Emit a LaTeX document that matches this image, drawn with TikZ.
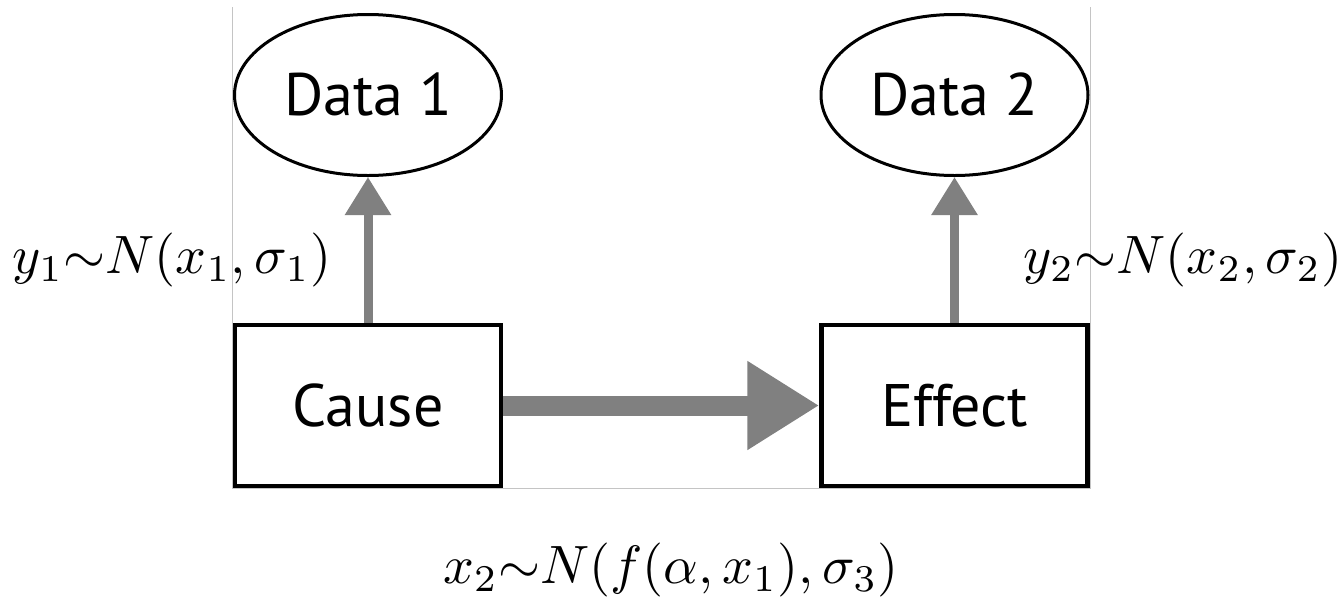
\documentclass[tikz,border=0pt]{standalone}
\usepackage[no-math]{fontspec}
\setmainfont{PT Sans}
\usetikzlibrary{shapes.geometric,arrows.meta}
\definecolor{arrowgray}{HTML}{808080}
\definecolor{framegray}{HTML}{C4C4C4}
\newcommand{\biglabel}[1]{\scalebox{5.4}{$#1$}}
\tikzset{
  databox/.style={ellipse, draw=black, line width=3pt, minimum width=267pt, minimum height=161pt, inner sep=0pt, font=\fontsize{60}{72}\selectfont},
  varbox/.style={rectangle, draw=black, line width=4.5pt, minimum width=266pt, minimum height=161pt, inner sep=0pt, font=\fontsize{60}{72}\selectfont},
  obsarrow/.style={draw=arrowgray, line width=9pt, -{Triangle[length=38pt,width=44pt]}, color=arrowgray},
  causearrow/.style={draw=arrowgray, line width=20pt, -{Triangle[length=72pt,width=84pt]}, color=arrowgray},
  mathlabel/.style={inner sep=0pt, anchor=base},
  frameline/.style={draw=framegray, line width=1pt}
}
\begin{document}
\begin{tikzpicture}[x=1pt,y=-1pt]
\useasboundingbox (0,0) rectangle (1342,598);
\fill[white] (0,0) rectangle (1342,598);
% faint frame of the embedded picture
\coordinate (f1) at (232,7);
\coordinate (f2) at (232,488);
\coordinate (f3) at (1090,488);
\coordinate (f4) at (1090,7);
\draw[frameline] (f1) -- (f2) -- (f3) -- (f4);
% nodes
\node[databox] (d1) at (368,95) {\raisebox{2pt}{Data 1}};
\node[databox] (d2) at (954.5,95) {\raisebox{2pt}{Data 2}};
\node[varbox] (cause) at (368,405.5) {Cause};
\node[varbox] (effect) at (954.5,405.5) {Effect};
% connectors
\draw[obsarrow] (cause.north) -- (d1.south);
\draw[obsarrow] (effect.north) -- (d2.south);
\draw[causearrow] (cause.east) -- (effect.west);
% labels
\node[mathlabel] (l1) at (172,273) {\biglabel{y_1{\sim}N(x_1,\sigma_1)}};
\node[mathlabel] (l2) at (1183,273) {\biglabel{y_2{\sim}N(x_2,\sigma_2)}};
\node[mathlabel] (l3) at (671,583) {\biglabel{x_2{\sim}N(f(\alpha,x_1),\sigma_3)}};
\end{tikzpicture}
\end{document}
